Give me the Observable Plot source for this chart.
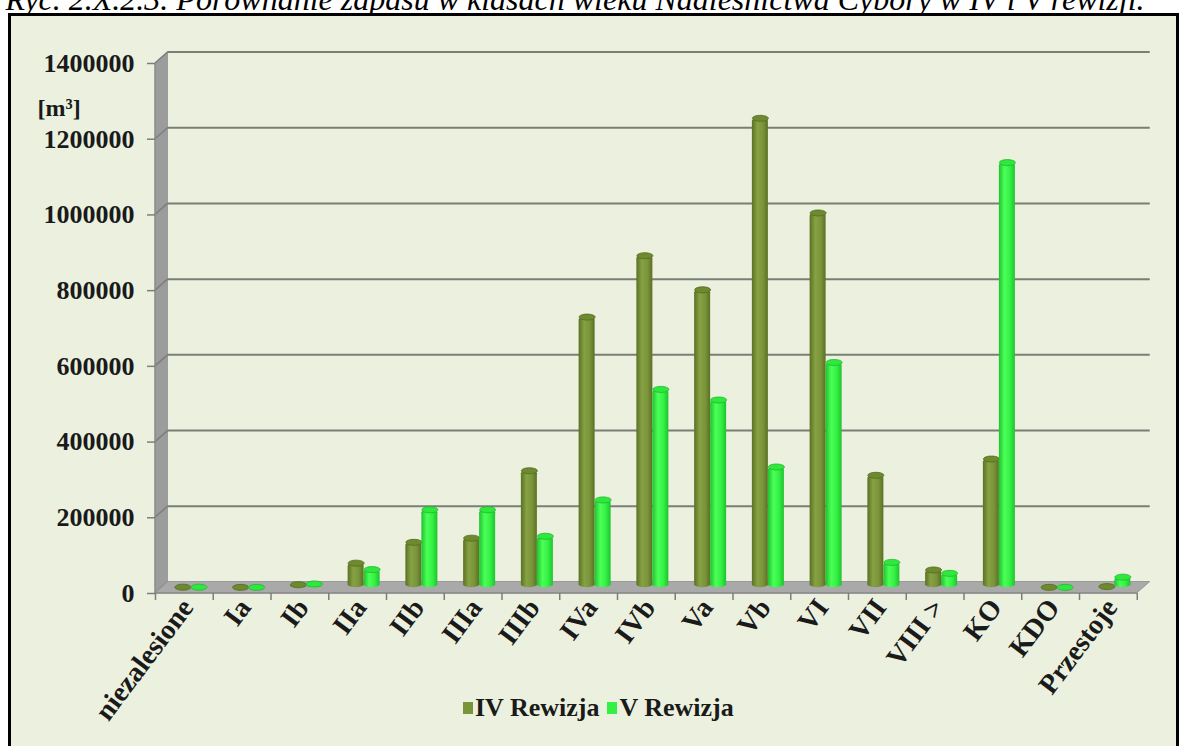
<!DOCTYPE html>
<html>
<head>
<meta charset="utf-8">
<script src="https://cdn.jsdelivr.net/npm/d3@7"></script>
<script src="https://cdn.jsdelivr.net/npm/@observablehq/plot@0.6"></script>
<style>
  html, body { margin: 0; padding: 0; background: #ffffff; }
  body { position: relative; width: 1186px; height: 746px; overflow: hidden; font-family: "Liberation Serif", "Times New Roman", serif; }
  #title { position: absolute; left: -18px; top: -17px; width: 1186px; text-align: center; font-style: italic; font-size: 32px; line-height: 32px; white-space: nowrap; color: #000; }
  #frame { position: absolute; left: 8px; top: 13px; width: 1165px; height: 760px; border: 3px solid #000; background: #EBF1DE; }
  #chart { position: absolute; left: 0; top: 0; }
  #legend { position: absolute; top: 693px; left: 463px; display: flex; align-items: center; font-weight: bold; font-size: 26px; color: #1a1a1a; white-space: nowrap; }
  #legend .sw { display: inline-block; width: 10px; height: 12px; margin-right: 2px; }
  #legend .item { display: flex; align-items: center; margin-right: 8px; }
</style>
</head>
<body>
<div id="title">Ryc. 2.X.2.3. Porównanie zapasu w klasach wieku Nadleśnictwa Cybory w IV i V rewizji.</div>
<div id="frame"></div>
<div id="chart"></div>
<div id="legend"></div>
<script>
// ---- data ----
const categories = ["niezalesione", "Ia", "Ib", "IIa", "IIb", "IIIa", "IIIb", "IVa", "IVb", "Va", "Vb", "VI", "VII", "VIII >", "KO", "KDO", "Przestoje"];
const seriesNames = ["IV Rewizja", "V Rewizja"];
const rewizjaIV = [1500, 1000, 8000, 65000, 120000, 131000, 309000, 715000, 877000, 787000, 1240000, 990000, 297000, 47000, 340000, 1000, 3000];
const rewizjaV  = [1500, 1000, 10000, 48000, 206000, 206000, 136000, 232000, 524000, 496000, 319000, 595000, 67000, 38000, 1123000, 1000, 28000];
const yTicks = [0, 200000, 400000, 600000, 800000, 1000000, 1200000, 1400000];
const yUnit = "[m³]";

// ---- layout / style ----
const W = 1186, H = 746;
const mL = 155, mR = 49.25, mT = 63, mB = 153;
const bandPx = (W - mL - mR) / categories.length;
const barPx = 16;
const bw = barPx / bandPx;            // bar width in x units
const depthX = 13, depthY = -11.5;    // back wall offset
const midX = depthX / 2, midY = depthY / 2;
const colIV = "#7A943A", colV = "#33F044";

const rowsIV = categories.map((c, i) => ({cat: c, i, value: rewizjaIV[i]}));
const rowsV = categories.map((c, i) => ({cat: c, i, value: rewizjaV[i]}));

const ellipse = {
  draw(ctx) {
    const rx = barPx / 2, ry = 3, kx = rx * 0.5523, ky = ry * 0.5523;
    ctx.moveTo(-rx, 0);
    ctx.bezierCurveTo(-rx, -ky, -kx, -ry, 0, -ry);
    ctx.bezierCurveTo(kx, -ry, rx, -ky, rx, 0);
    ctx.bezierCurveTo(rx, ky, kx, ry, 0, ry);
    ctx.bezierCurveTo(-kx, ry, -rx, ky, -rx, 0);
    ctx.closePath();
  }
};

function wallAndFloor(index, scales) {
  const x = scales.x, y = scales.y;
  const x0 = x(0), x1 = x(categories.length), y0 = y(0), yTop = y(yTicks[yTicks.length - 1]);
  const g = d3.create("svg:g");
  g.append("path")
    .attr("d", `M${x0},${y0}L${x0},${yTop}L${x0 + depthX},${yTop + depthY}L${x0 + depthX},${y0 + depthY}Z`)
    .attr("fill", "#9C9C9C");
  for (const v of yTicks) {
    g.append("line")
      .attr("x1", x0).attr("y1", y(v)).attr("x2", x0 + depthX).attr("y2", y(v) + depthY)
      .attr("stroke", "#7d7d7d").attr("stroke-width", 1.5);
  }
  g.append("path")
    .attr("d", `M${x0},${y0}L${x1},${y0}L${x1 + depthX},${y0 + depthY}L${x0 + depthX},${y0 + depthY}Z`)
    .attr("fill", "#A9A9A9").attr("stroke", "#9a9a9a").attr("stroke-width", 1);
  g.append("line").attr("x1", x0).attr("y1", y0).attr("x2", x1).attr("y2", y0)
    .attr("stroke", "#8a8a8a").attr("stroke-width", 1.5);
  g.append("line").attr("x1", x0).attr("y1", y0).attr("x2", x0).attr("y2", yTop)
    .attr("stroke", "#8a8a8a").attr("stroke-width", 1.5);
  return g.node();
}

const chart = Plot.plot({
  width: W,
  height: H,
  marginLeft: mL, marginRight: mR, marginTop: mT, marginBottom: mB,
  style: {background: "transparent", fontFamily: "'Liberation Serif', 'Times New Roman', serif", overflow: "visible"},
  x: {type: "linear", domain: [0, categories.length]},
  y: {domain: [0, yTicks[yTicks.length - 1]]},
  marks: [
    // back wall gridlines
    Plot.ruleY(yTicks.filter(v => v > 0), {y: d => d, x1: 0, x2: categories.length, dx: depthX, dy: depthY, stroke: "#7A7F76", strokeWidth: 2}),
    wallAndFloor,
    // y ticks
    Plot.ruleY(yTicks, {y: d => d, x1: -8 / bandPx, x2: 0, stroke: "#7d7d7d", strokeWidth: 1.5}),
    Plot.axisY({ticks: yTicks, tickFormat: d => String(d), tickSize: 0, tickPadding: 21, label: null, fontSize: 26, fontWeight: "bold", fill: "#1a1a1a"}),
    // x ticks at band boundaries
    Plot.axisX({ticks: d3.range(categories.length + 1), tickFormat: () => "", tickSize: 7, label: null, stroke: "#7d7d7d", strokeWidth: 1.5}),
    // x labels
    Plot.axisX({ticks: categories.map((_, i) => i + 0.5), tickFormat: v => categories[Math.floor(v)], tickSize: 0, tickRotate: -53, tickPadding: 9, dx: 3, label: null, fontSize: 28, fontWeight: "bold", fill: "#1a1a1a"}),
    // cylinders IV
    Plot.rectY(rowsIV, {x1: d => d.i + 0.5 - bw, x2: d => d.i + 0.5, y1: 0, y2: "value", fill: "url(#gradIV)", rx: barPx / 2, ry: 3, dx: midX, dy: midY}),
    Plot.dot(rowsIV, {x: d => d.i + 0.5 - bw / 2, y: "value", symbol: ellipse, r: 4, fill: "#6E8A2E", stroke: "#55691F", strokeWidth: 0.8, dx: midX, dy: midY}),
    // cylinders V
    Plot.rectY(rowsV, {x1: d => d.i + 0.5, x2: d => d.i + 0.5 + bw, y1: 0, y2: "value", fill: "url(#gradV)", rx: barPx / 2, ry: 3, dx: midX, dy: midY}),
    Plot.dot(rowsV, {x: d => d.i + 0.5 + bw / 2, y: "value", symbol: ellipse, r: 4, fill: "#2EE83E", stroke: "#1FB82B", strokeWidth: 0.8, dx: midX, dy: midY}),
    // unit label
    Plot.text([yUnit], {text: d => d, frameAnchor: "top-left", dx: -118, dy: 35, textAnchor: "start", fontSize: 24, fontWeight: "bold", fill: "#1a1a1a"})
  ]
});

// gradients for cylinder shading
const svg = d3.select(chart);
const defs = svg.insert("defs", ":first-child");
function grad(id, edge, mid, light) {
  const g = defs.append("linearGradient").attr("id", id).attr("x1", "0").attr("x2", "1").attr("y1", "0").attr("y2", "0");
  g.append("stop").attr("offset", "0%").attr("stop-color", edge);
  g.append("stop").attr("offset", "35%").attr("stop-color", light);
  g.append("stop").attr("offset", "70%").attr("stop-color", mid);
  g.append("stop").attr("offset", "100%").attr("stop-color", edge);
}
grad("gradIV", "#5B7024", colIV, "#86A243");
grad("gradV", "#1FC22E", colV, "#4CFF58");

document.getElementById("chart").appendChild(chart);

// legend
const legend = d3.select("#legend");
const legendColors = [colIV, colV];
seriesNames.forEach((name, k) => {
  const item = legend.append("div").attr("class", "item");
  item.append("span").attr("class", "sw").style("background", legendColors[k]);
  item.append("span").text(name);
});
</script>
</body>
</html>
